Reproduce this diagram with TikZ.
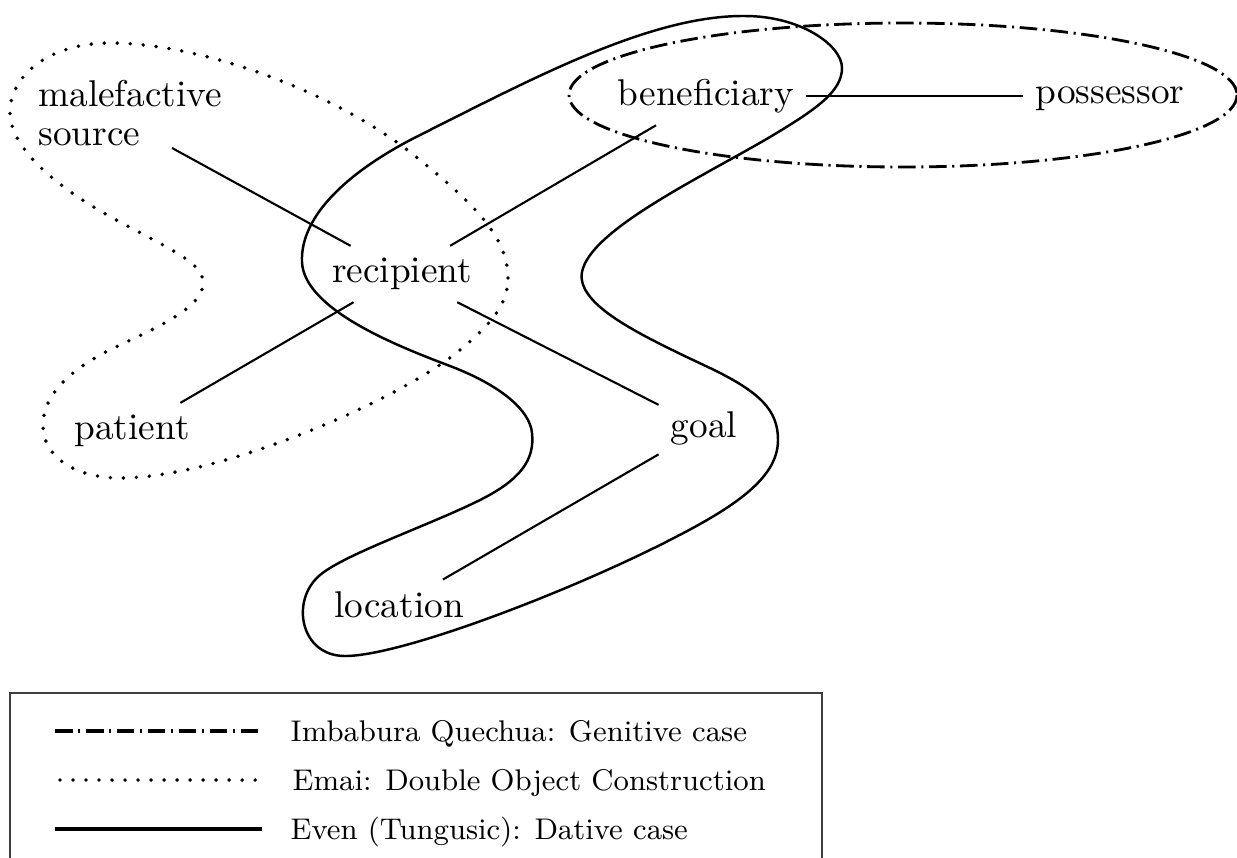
\documentclass[tikz,border=0pt]{standalone}
\usepackage{tikz}

\begin{document}
\begin{tikzpicture}[x=0.01cm, y=-0.01cm, font=\fontsize{10.6}{11}\selectfont,
  role/.style={inner sep=1.5pt, outer sep=2pt},
  link/.style={line width=0.6pt},
  genitive/.style={line width=0.8pt, dash pattern=on 5pt off 1.6pt on 0.6pt off 1.6pt},
  doubleobj/.style={line width=1.1pt, line cap=round, dash pattern=on 0pt off 3.7pt},
  dative/.style={line width=0.7pt},
  legtext/.style={anchor=base west, inner sep=0pt, font=\fontsize{8.5}{10}\selectfont}]
  \useasboundingbox (0,0) rectangle (1237,857);

  % semantic roles
  \node[role, align=left] (mal) at (130,113) {malefactive\\source};
  \node[role] (ben) at (706,96) {beneficiary};
  \node[role] (pos) at (1110,99) {possessor};
  \node[role] (rec) at (402,274) {recipient};
  \node[role] (pat) at (132,431) {patient};
  \node[role] (goal) at (704,428) {goal};
  \node[role] (loc) at (399,605) {location};

  \draw[link] ([xshift=0.42cm, yshift=0.1cm]mal.south) -- (rec);
  \draw[link] (rec) -- (ben);
  \draw[link] (rec) -- (pat);
  \draw[link] (rec) -- (goal);
  \draw[link] (goal) -- (loc);
  \draw[link] (ben.east) -- (pos.west |- ben.east);

  % Imbabura Quechua
  \draw[genitive] (903,95) ellipse [x radius=334, y radius=72];

  % Emai
  \draw[doubleobj] (508,278) .. controls (508,235) and (470,200) .. (410,152)
    .. controls (330,90) and (200,43) .. (110,43)
    .. controls (50,43) and (10,75) .. (10,112)
    .. controls (10,150) and (60,190) .. (120,222)
    .. controls (180,254) and (205,265) .. (203,285)
    .. controls (201,305) and (170,322) .. (120,345)
    .. controls (70,368) and (43,395) .. (43,425)
    .. controls (43,460) and (80,478) .. (120,478)
    .. controls (220,478) and (400,400) .. (460,350)
    .. controls (490,325) and (508,305) .. (508,278) -- cycle;

  % Even
  \draw[dative] (302,262) .. controls (300,215) and (350,170) .. (420,135)
    .. controls (530,80) and (650,15) .. (745,16)
    .. controls (800,16) and (842,45) .. (842,68)
    .. controls (842,92) and (815,110) .. (770,137)
    .. controls (700,178) and (590,230) .. (582,272)
    .. controls (576,305) and (640,335) .. (710,368)
    .. controls (760,392) and (778,410) .. (778,440)
    .. controls (778,480) and (730,510) .. (660,545)
    .. controls (560,595) and (400,656) .. (345,656)
    .. controls (300,656) and (290,600) .. (320,575)
    .. controls (345,554) and (430,525) .. (480,500)
    .. controls (520,480) and (535,460) .. (532,433)
    .. controls (530,410) and (500,385) .. (450,366)
    .. controls (400,347) and (304,310) .. (302,262) -- cycle;

  % legend
  \draw[line width=0.4pt, black!75] (10,870) |- (822,693) -- (822,870);
  \draw[genitive, line width=1.1pt] (55,731) -- (262,731);
  \draw[doubleobj] (60,780) -- (262,780);
  \draw[dative, line width=1pt] (55,829) -- (262,829);
  \node[legtext] (qlab) at (290,741) {Imbabura Quechua: Genitive case};
  \node[legtext] (elab) at (292,790) {Emai: Double Object Construction};
  \node[legtext] (tlab) at (290,839) {Even (Tungusic): Dative case};
\end{tikzpicture}
\end{document}
